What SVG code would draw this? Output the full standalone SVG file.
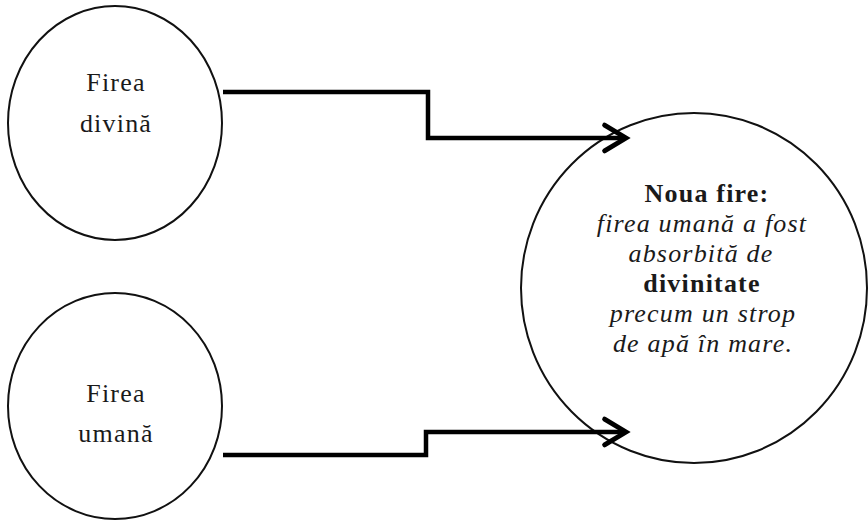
<svg xmlns="http://www.w3.org/2000/svg" width="868" height="523" viewBox="0 0 868 523">
<defs>
<style>
.node{fill:#fff;stroke:#111;stroke-width:2}
.t{font-family:"Liberation Serif","Times New Roman",serif;font-size:26px;fill:#1a1a1a;text-anchor:middle;letter-spacing:1.2px}
.i{font-style:italic}
.b{font-weight:bold}
.conn{fill:none;stroke:#000;stroke-width:4.5;stroke-linejoin:miter}
</style>
<marker id="arr" markerUnits="userSpaceOnUse" markerWidth="30" markerHeight="34" viewBox="-24 -15 28 30" refX="0" refY="0" orient="auto" overflow="visible">
<path d="M-20,-12 L0,0 L-20,12" fill="none" stroke="#000" stroke-width="4.5" stroke-linejoin="miter" stroke-linecap="round"/>
</marker>
</defs>
<rect width="868" height="523" fill="#fff"/>
<g id="divina">
<ellipse class="node" cx="115" cy="123" rx="107" ry="117"/>
<text class="t" x="116" y="91">Firea</text>
<text class="t" x="116" y="132">divină</text>
</g>
<g id="umana">
<ellipse class="node" cx="115" cy="406" rx="107" ry="113"/>
<text class="t" x="116" y="402">Firea</text>
<text class="t" x="116" y="442">umană</text>
</g>
<g id="noua">
<ellipse class="node" cx="694" cy="288" rx="173" ry="175"/>
<text class="t b" x="707" y="202">Noua fire:</text>
<text class="t i" x="702" y="232">firea umană a fost</text>
<text class="t i" x="701" y="262">absorbită de</text>
<text class="t b" x="702" y="292">divinitate</text>
<text class="t i" x="703" y="322">precum un strop</text>
<text class="t i" x="703" y="352">de apă în mare.</text>
</g>
<g id="connectors">
<path class="conn" d="M223,92 H428 V138 H626" marker-end="url(#arr)"/>
<path class="conn" d="M223,455 H426 V432 H626" marker-end="url(#arr)"/>
</g>
</svg>
